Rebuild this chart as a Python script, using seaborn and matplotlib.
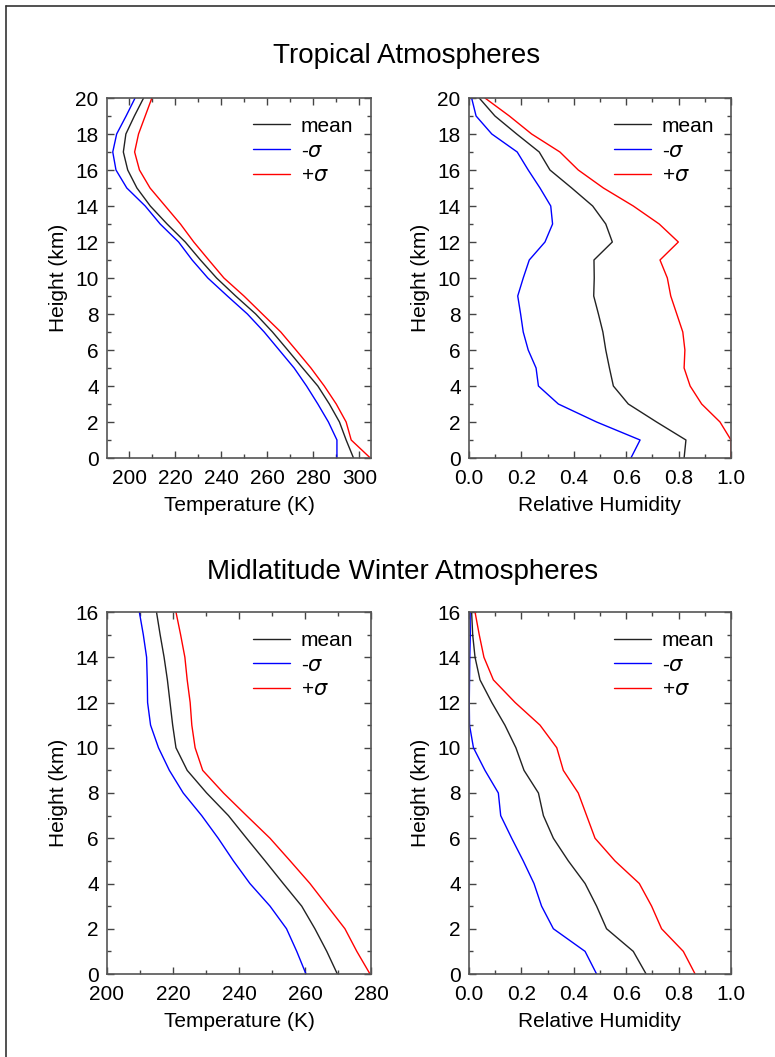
import matplotlib
matplotlib.use('Agg')
import matplotlib.pyplot as plt
from matplotlib.ticker import MultipleLocator
from matplotlib.lines import Line2D
import seaborn as sns

sns.set_theme(style="ticks")
plt.rcParams['font.family'] = ['Liberation Sans', 'DejaVu Sans']
plt.rcParams['mathtext.fontset'] = 'dejavusans'
plt.rcParams['text.color'] = 'black'
plt.rcParams['axes.labelcolor'] = 'black'

# Tropical profiles (0..20 km, 1 km steps)
trop_height = list(range(0, 21))
trop_t_mean = [297.4, 294.2, 291.3, 286.9, 281.9, 275.3, 268.8, 262.2, 254.9, 246.2, 237.9,
               230.9, 224.3, 216.4, 209.1, 203.3, 199.3, 197.4, 198.5, 202.2, 206.2]
trop_t_minus = [290.2, 290.2, 286.5, 281.9, 277.0, 271.6, 265.1, 258.6, 251.3, 242.6, 234.1,
                227.3, 221.4, 213.4, 206.9, 198.9, 194.2, 192.8, 194.5, 198.6, 202.5]
trop_t_plus = [304.7, 296.4, 294.2, 289.9, 284.7, 278.9, 272.4, 265.8, 257.8, 249.8, 241.1,
               234.5, 228.0, 222.2, 215.6, 209.0, 204.4, 202.3, 204.0, 206.9, 209.8]

trop_rh_mean = [0.821, 0.828, 0.716, 0.608, 0.551, 0.536, 0.522, 0.511, 0.494, 0.476, 0.478,
                0.477, 0.547, 0.522, 0.472, 0.392, 0.309, 0.268, 0.182, 0.099, 0.039]
trop_rh_minus = [0.618, 0.653, 0.487, 0.341, 0.265, 0.256, 0.226, 0.207, 0.197, 0.186, 0.207,
                 0.230, 0.290, 0.319, 0.312, 0.271, 0.226, 0.184, 0.087, 0.027, 0.010]
trop_rh_plus = [1.000, 1.000, 0.958, 0.888, 0.844, 0.821, 0.824, 0.816, 0.793, 0.770, 0.757,
                0.729, 0.799, 0.726, 0.627, 0.513, 0.417, 0.347, 0.239, 0.154, 0.061]

# Midlatitude winter profiles (0..16 km)
mlw_height = list(range(0, 17))
mlw_t_mean = [269.8, 266.6, 263.0, 259.0, 253.4, 247.9, 242.3, 236.8, 230.2, 224.3, 220.9,
              219.9, 219.1, 218.3, 217.3, 216.1, 215.0]
mlw_t_minus = [260.3, 257.5, 254.4, 249.4, 243.3, 238.3, 233.7, 228.7, 223.1, 218.9, 215.6,
               213.2, 212.3, 212.2, 212.0, 211.0, 209.8]
mlw_t_plus = [279.7, 275.7, 272.1, 266.8, 261.5, 255.5, 249.4, 242.3, 235.3, 229.0, 226.7,
              225.7, 225.2, 224.3, 223.6, 222.3, 220.9]

mlw_rh_mean = [0.676, 0.627, 0.525, 0.487, 0.443, 0.379, 0.322, 0.284, 0.265, 0.210, 0.179,
               0.137, 0.087, 0.042, 0.023, 0.014, 0.010]
mlw_rh_minus = [0.487, 0.443, 0.322, 0.277, 0.248, 0.207, 0.163, 0.121, 0.112, 0.061, 0.017,
                0.002, 0.001, 0.002, 0.003, 0.005, 0.004]
mlw_rh_plus = [0.863, 0.818, 0.735, 0.697, 0.650, 0.557, 0.481, 0.449, 0.417, 0.360, 0.335,
               0.271, 0.176, 0.093, 0.057, 0.039, 0.023]

labels = ['mean', r'-$\sigma$', r'+$\sigma$']
colors = ['#222222', 'blue', 'red']

fig = plt.figure(figsize=(7.75, 10.57), dpi=100)

W, H = 775, 1057


def make_ax(x0, x1, y0, y1):
    return fig.add_axes([x0 / W, 1 - y1 / H, (x1 - x0) / W, (y1 - y0) / H])


panels = [
    (make_ax(107, 371, 98, 458), trop_height, [trop_t_mean, trop_t_minus, trop_t_plus],
     (190.3, 305), 20, 10, 20, 'Temperature (K)', '{:.0f}'),
    (make_ax(469, 731, 98, 458), trop_height, [trop_rh_mean, trop_rh_minus, trop_rh_plus],
     (0, 1), 0.2, 0.1, 20, 'Relative Humidity', '{:.1f}'),
    (make_ax(107, 371, 612, 974), mlw_height, [mlw_t_mean, mlw_t_minus, mlw_t_plus],
     (200, 280), 20, 10, 16, 'Temperature (K)', '{:.0f}'),
    (make_ax(469, 731, 612, 974), mlw_height, [mlw_rh_mean, mlw_rh_minus, mlw_rh_plus],
     (0, 1), 0.2, 0.1, 16, 'Relative Humidity', '{:.1f}'),
]

for ax, hgt, series, xlim, xmaj, xmin, ytop, xlabel, fmt in panels:
    for vals, lab, col in zip(series, labels, colors):
        sns.lineplot(x=vals, y=hgt, orient='y', color=col, label=lab, lw=1.0, ax=ax)
    ax.set_xlim(*xlim)
    ax.set_ylim(0, ytop)
    ax.xaxis.set_major_locator(MultipleLocator(xmaj))
    ax.xaxis.set_minor_locator(MultipleLocator(xmin))
    ax.yaxis.set_major_locator(MultipleLocator(2))
    ax.yaxis.set_minor_locator(MultipleLocator(1))
    ax.xaxis.set_major_formatter(plt.FuncFormatter(lambda v, p, f=fmt: f.format(v)))
    ax.tick_params(which='both', direction='in', top=True, right=True,
                   color='#444444', labelcolor='black', width=1.0, labelsize=15)
    ax.tick_params(axis='x', which='major', pad=8)
    ax.tick_params(axis='y', which='major', pad=6)
    ax.tick_params(which='major', length=5)
    ax.tick_params(which='minor', length=3)
    for s in ax.spines.values():
        s.set_color('#555555')
        s.set_linewidth(1.2)
    ax.set_xlabel(xlabel, fontsize=15, labelpad=6)
    ax.set_ylabel('Height (km)', fontsize=15, labelpad=5)
    leg = ax.legend(loc='upper left', bbox_to_anchor=(0.553, 0.948), frameon=False,
                    fontsize=15, handlelength=1.8, handletextpad=0.5, labelspacing=0.28,
                    borderpad=0, borderaxespad=0)
    ax.grid(False)

fig.text(407 / W, 1 - 56 / H, 'Tropical Atmospheres', ha='center', va='center', fontsize=20)
fig.text(403 / W, 1 - 572 / H, 'Midlatitude Winter Atmospheres', ha='center', va='center',
         fontsize=20)

# outer frame (left and top edges visible)
fig.add_artist(Line2D([6 / W, 6 / W], [0, 1 - 6 / H], color='#333333', lw=1.2))
fig.add_artist(Line2D([6 / W, 1], [1 - 6 / H, 1 - 6 / H], color='#333333', lw=1.2))

fig.savefig('out.png', dpi=100)
plt.close(fig)
